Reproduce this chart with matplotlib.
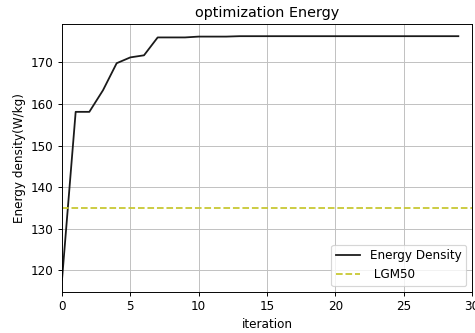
import matplotlib
matplotlib.use("Agg")
import matplotlib.pyplot as plt

iterations = list(range(30))
energy_density = [117.7, 158.1, 158.1, 163.3, 169.8, 171.2, 171.7, 176.0, 176.0, 176.0,
                  176.2, 176.2, 176.2, 176.3, 176.3, 176.3, 176.3, 176.3, 176.3, 176.3,
                  176.3, 176.3, 176.3, 176.3, 176.3, 176.3, 176.3, 176.3, 176.3, 176.3]
lgm50_value = 135.0

DPI = 86
fig = plt.figure(figsize=(475/DPI, 333/DPI), dpi=DPI)
ax = fig.add_axes([62/475, 41/333, 410/475, 268/333])
ax.plot(iterations, energy_density, color='#1a1a1a', label='Energy Density')
ax.axhline(lgm50_value, color='#c8c832', linestyle='--', label=' LGM50')
ax.set_xlim(0, 30)
ax.grid(True, color='#c0c0c0')
ax.set_title('optimization Energy')
ax.set_xlabel('iteration')
ax.set_ylabel('Energy density(W/kg)')
ax.legend(loc='lower right')
fig.savefig('out.png', dpi=DPI)
